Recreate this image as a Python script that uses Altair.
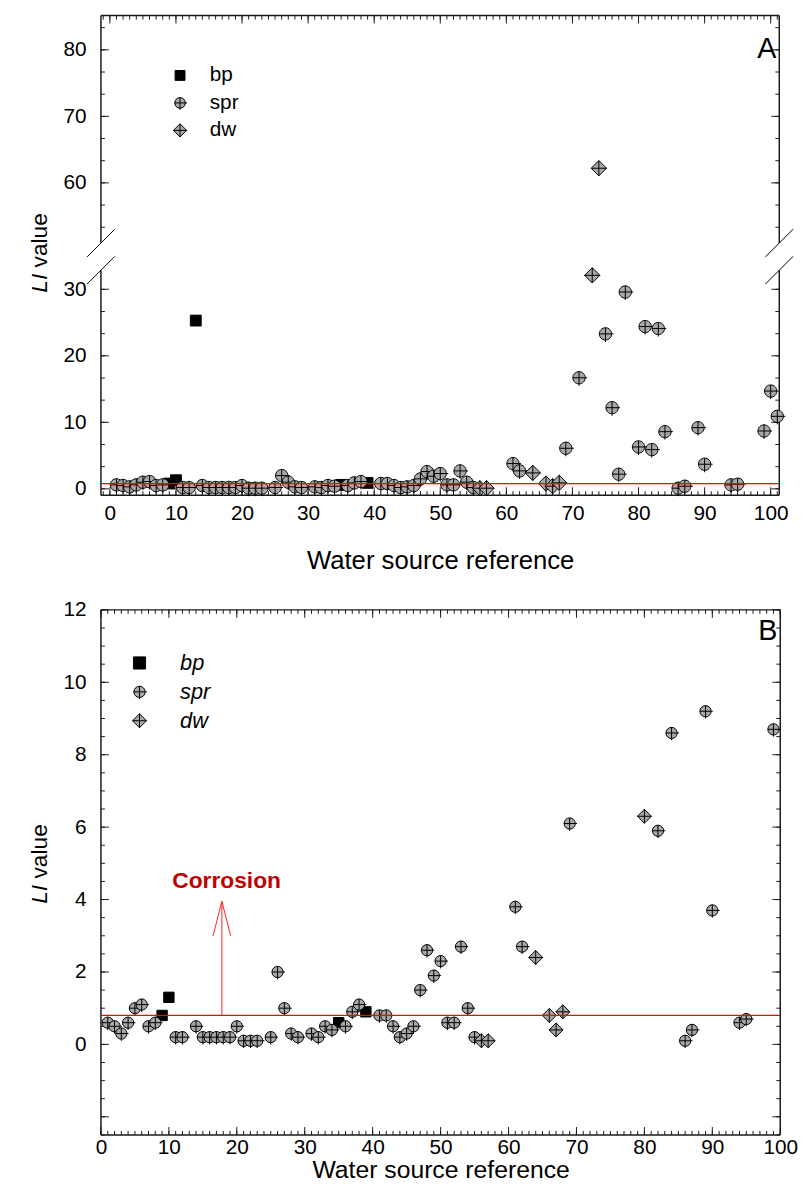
import altair as alt
import numpy as np
import pandas as pd

FONT = "Liberation Sans"
AXC = "#1a1a1a"
RED = "#ff0000"
types = ["bp", "spr", "dw"]

# ---------------- Panel B data (y up to 12) ----------------
b_bp_x = [9, 10, 35, 39]
b_bp_y = [0.8, 1.3, 0.6, 0.9]
b_spr_x = [1, 2, 3, 4, 5, 6, 7, 8, 11, 12, 14, 15, 16, 17, 18, 19, 20, 21, 22, 23,
           25, 26, 27, 28, 29, 31, 32, 33, 34, 36, 37, 38,
           41, 42, 43, 44, 45, 46, 47, 48, 49, 50, 51, 52, 53, 54, 55,
           61, 62, 69, 82, 84, 86, 87, 89, 90, 94, 95, 99]
b_spr_y = [0.6, 0.5, 0.3, 0.6, 1.0, 1.1, 0.5, 0.6, 0.2, 0.2, 0.5, 0.2, 0.2, 0.2, 0.2, 0.2, 0.5, 0.1, 0.1, 0.1,
           0.2, 2.0, 1.0, 0.3, 0.2, 0.3, 0.2, 0.5, 0.4, 0.5, 0.9, 1.1,
           0.8, 0.8, 0.5, 0.2, 0.3, 0.5, 1.5, 2.6, 1.9, 2.3, 0.6, 0.6, 2.7, 1.0, 0.2,
           3.8, 2.7, 6.1, 5.9, 8.6, 0.1, 0.4, 9.2, 3.7, 0.6, 0.7, 8.7]
b_dw_x = [56, 57, 64, 66, 67, 68, 80]
b_dw_y = [0.1, 0.1, 2.4, 0.8, 0.4, 0.9, 6.3]

# ---------------- Panel A data (full range, broken axis) ----------------
a_bp_x = b_bp_x + [13]
a_bp_y = b_bp_y + [25.3]
a_spr_x = b_spr_x + [71, 75, 76, 77, 78, 80, 81, 83, 100, 101]
a_spr_y = b_spr_y + [16.7, 23.3, 12.2, 2.2, 29.6, 6.3, 24.4, 24.1, 14.7, 10.9]
a_dw_x = [56, 57, 64, 66, 67, 68, 73, 74]
a_dw_y = [0.1, 0.1, 2.4, 0.8, 0.4, 0.9, 32.1, 62.2]

threshold = 0.8
BREAK_SHIFT = 14      # values above the break are drawn this many units lower
BREAK_AT = 45

x_labels = list(range(0, 101, 10))
a_y_labels = [0, 10, 20, 30, 60, 70, 80]
b_y_labels = [0, 2, 4, 6, 8, 10, 12]


def table(bx, by, sx, sy, dx, dy):
    return pd.DataFrame({
        "x": list(bx) + list(sx) + list(dx),
        "v": list(by) + list(sy) + list(dy),
        "type": ["bp"] * len(bx) + ["spr"] * len(sx) + ["dw"] * len(dx),
    })


def shift(v):
    v = np.asarray(v, dtype=float)
    return np.where(v > BREAK_AT, v - BREAK_SHIFT, v)


df_a = table(a_bp_x, a_bp_y, a_spr_x, a_spr_y, a_dw_x, a_dw_y)
df_a["t"] = shift(df_a["v"])
df_b = table(b_bp_x, b_bp_y, b_spr_x, b_spr_y, b_dw_x, b_dw_y)
df_b["t"] = df_b["v"]

CIRCLE_X = "M-1,0A1,1,0,1,1,1,0A1,1,0,1,1,-1,0Z M-1,0L1.3,0 M0,-1L0,1.3"
DIAMOND_X = "M0,-1L1,0L0,1L-1,0Z M-1,0L1,0 M0,-1L0,1"
SHAPES = {"bp": "square", "spr": CIRCLE_X, "dw": DIAMOND_X}
FILLS = {"bp": "#000000", "spr": "#a8a8a8", "dw": "#a8a8a8"}
ONE = pd.DataFrame({"k": [0]})


def seg_layers(segs, color=AXC, width=1.5):
    out = []
    for (x1, y1, x2, y2) in segs:
        out.append(alt.Chart(ONE).mark_rule(color=color, strokeWidth=width).encode(
            x=alt.value(x1), x2=alt.value(x2), y=alt.value(y1), y2=alt.value(y2)))
    return out


def tick_layers(vals, channel, scale, axis, W, H, L):
    d = pd.DataFrame({"p": list(vals)})
    base = alt.Chart(d).mark_rule(color=AXC, strokeWidth=1)
    if channel == "x":
        enc = alt.X("p:Q", scale=scale, axis=axis)
        return [base.encode(x=enc, y=alt.value(H), y2=alt.value(H - L)),
                base.encode(x=enc, y=alt.value(0), y2=alt.value(L))]
    enc = alt.Y("p:Q", scale=scale, axis=axis)
    return [base.encode(y=enc, x=alt.value(0), x2=alt.value(L)),
            base.encode(y=enc, x=alt.value(W), x2=alt.value(W - L))]


def ytitle_layers(mid, xpos, size):
    w_li = (556 + 278) / 1000 * size
    w_sp = 278 / 1000 * size
    w_val = 2390 / 1000 * size
    bottom = mid + (w_li + w_sp + w_val) / 2
    li = alt.Chart(pd.DataFrame({"s": ["LI"]})).mark_text(
        font=FONT, fontSize=size, fontStyle="italic", angle=270, align="left",
        baseline="middle", color="black").encode(
        x=alt.value(xpos), y=alt.value(bottom), text="s:N")
    val = alt.Chart(pd.DataFrame({"s": ["value"]})).mark_text(
        font=FONT, fontSize=size, angle=270, align="left",
        baseline="middle", color="black").encode(
        x=alt.value(xpos), y=alt.value(bottom - w_li - w_sp), text="s:N")
    return [li, val]


def legend_layers(sx, sy0, dy, label_x, sizes, italic, fsize):
    out = []
    for i, typ in enumerate(types):
        y = sy0 + i * dy
        out.append(alt.Chart(ONE).mark_point(
            filled=True, shape=SHAPES[typ], fill=FILLS[typ], size=sizes[typ],
            stroke="black", strokeWidth=1, opacity=1).encode(
            x=alt.value(sx), y=alt.value(y)))
        out.append(alt.Chart(pd.DataFrame({"s": [typ]})).mark_text(
            font=FONT, fontSize=fsize, fontStyle="italic" if italic else "normal",
            align="left", baseline="middle", color="black").encode(
            x=alt.value(label_x), y=alt.value(y), text="s:N"))
    return out


def panel(df, W, H, xdom, ydom, ylab_vals, ylab_expr, ytick_minor, ytick_major,
          xtick_minor, xtick_major, sizes, legend, ytitle_mid, letter, letter_xy,
          frame_segs, extra_fn, title_pad, label_pad_x, title_size):
    xs = alt.Scale(domain=xdom, nice=False, zero=False)
    ys = alt.Scale(domain=ydom, nice=False, zero=False)
    xaxis = alt.Axis(values=x_labels, title="Water source reference", domain=False,
                     ticks=False, tickSize=0, grid=False, labelFont=FONT, labelFontSize=21,
                     labelColor="black", labelPadding=label_pad_x, labelFlush=False,
                     titleFont=FONT, titleFontSize=title_size, titleFontWeight="normal",
                     titleColor="black", titlePadding=title_pad)
    yaxis = alt.Axis(values=ylab_vals, labelExpr=ylab_expr, title=None, domain=False,
                     ticks=False, tickSize=0, grid=False, labelFont=FONT, labelFontSize=21,
                     labelColor="black", labelPadding=15, labelFlush=False)
    layers = []
    layers += tick_layers(xtick_minor, "x", xs, xaxis, W, H, 4)
    layers += tick_layers(xtick_major, "x", xs, xaxis, W, H, 8)
    layers += tick_layers(ytick_minor, "y", ys, yaxis, W, H, 4)
    layers += tick_layers(ytick_major, "y", ys, yaxis, W, H, 8)
    layers += seg_layers(frame_segs)
    for typ in types:
        d = df[df["type"] == typ]
        layers.append(alt.Chart(d).mark_point(
            filled=True, shape=SHAPES[typ], fill=FILLS[typ], size=sizes[typ],
            stroke="black", strokeWidth=1, opacity=1).encode(
            x=alt.X("x:Q", scale=xs, axis=xaxis),
            y=alt.Y("t:Q", scale=ys, axis=yaxis)))
    thr = alt.Chart(pd.DataFrame({"t": [threshold]})).mark_rule(color=RED, strokeWidth=1.3).encode(
        y=alt.Y("t:Q", scale=ys, axis=yaxis))
    layers.append(thr)
    layers += extra_fn(xs, ys, xaxis, yaxis)
    layers += legend
    layers += ytitle_layers(ytitle_mid, -62, 23)
    lab = alt.Chart(pd.DataFrame({"s": [letter]})).mark_text(
        font=FONT, fontSize=29, align="right", baseline="middle", color="black").encode(
        x=alt.value(letter_xy[0]), y=alt.value(letter_xy[1]), text="s:N")
    layers.append(lab)
    return alt.layer(*layers).properties(width=W, height=H)


# ---------------- Panel A ----------------
WA, HA = 686, 485
ydom_a = [-0.95, 71.15]
a_lab_t = [float(s) for s in shift(a_y_labels)]
a_minor_v = list(np.arange(0, 30.01, 10 / 3)) + list(np.arange(50 + 10 / 3, 85, 10 / 3))
a_major_v = [0, 10, 20, 30, 60, 70, 80]
gap_top, gap_bot = 230, 257.5
frame_a = [
    (0, 0, WA, 0), (0, HA, WA, HA),
    (0, 0, 0, gap_top), (0, gap_bot, 0, HA),
    (WA, 0, WA, gap_top), (WA, gap_bot, WA, HA),
]
breaks_a = [
    (-14, gap_bot + 14, 14, gap_bot - 14), (-14, gap_top + 14, 14, gap_top - 14),
    (WA - 14, gap_bot + 14, WA + 14, gap_bot - 14), (WA - 14, gap_top + 14, WA + 14, gap_top - 14),
]


def extra_a(xs, ys, xaxis, yaxis):
    return seg_layers(breaks_a, color="#000000", width=1)


sizes_a = {"bp": 120, "spr": 155, "dw": 240}
legend_a = legend_layers(80, 60.5, 27.8, 110, {"bp": 100, "spr": 115, "dw": 180}, False, 21)

panel_a = panel(
    df_a, WA, HA, [-1.35, 101.3], ydom_a, a_lab_t,
    "datum.value > 40 ? format(datum.value + 14, 'd') : format(datum.value, 'd')",
    [float(s) for s in shift(a_minor_v)], [float(s) for s in shift(a_major_v)],
    list(range(-1, 102)), list(range(0, 101, 10)),
    sizes_a, legend_a, 240, "A", (WA - 3, 34), frame_a, extra_a, 24, 8, 26)

# ---------------- Panel B ----------------
WB, HB = 687, 531
ydom_b = [-2.5, 12]
frame_b = [(0, 0, WB, 0), (0, HB, WB, HB), (0, 0, 0, HB), (WB, 0, WB, HB)]

corr_x, corr_y = 18.5, 4.5
arrow_x, arrow_top = 17.8, 3.95
arrow = pd.DataFrame({
    "x": [arrow_x, arrow_x - 1.3, arrow_x + 1.3],
    "y": [threshold, arrow_top - 0.95, arrow_top - 0.95],
    "x2": [arrow_x, arrow_x, arrow_x],
    "y2": [arrow_top, arrow_top, arrow_top],
})


def extra_b(xs, ys, xaxis, yaxis):
    arr = alt.Chart(arrow).mark_rule(color="#ff2020", strokeWidth=1).encode(
        x=alt.X("x:Q", scale=xs, axis=xaxis), y=alt.Y("y:Q", scale=ys, axis=yaxis),
        x2="x2:Q", y2="y2:Q")
    txt = alt.Chart(pd.DataFrame({"x": [corr_x], "y": [corr_y], "s": ["Corrosion"]})).mark_text(
        font=FONT, fontSize=23, fontWeight="bold", color="#c00000", align="center",
        baseline="middle").encode(
        x=alt.X("x:Q", scale=xs, axis=xaxis), y=alt.Y("y:Q", scale=ys, axis=yaxis), text="s:N")
    return [arr, txt]


sizes_b = {"bp": 110, "spr": 130, "dw": 200}
legend_b = legend_layers(39, 53.7, 29.2, 80, {"bp": 150, "spr": 130, "dw": 200}, True, 22)

panel_b = panel(
    df_b, WB, HB, [0, 100], ydom_b, b_y_labels, "format(datum.value, 'd')",
    list(np.arange(-2.5, 12.01, 0.5)), list(range(-2, 13, 2)),
    list(range(0, 101)), list(range(0, 101, 10)),
    sizes_b, legend_b, 257, "B", (WB - 3, 21), frame_b, extra_b, 0, 2, 25)

chart = alt.vconcat(panel_a, panel_b, spacing=26).properties(
    padding={"left": 21, "top": 0, "right": 5, "bottom": 0}
).configure(font=FONT).configure_view(stroke=None)

chart.save("out.html", embed_options={"renderer": "svg", "actions": False})
